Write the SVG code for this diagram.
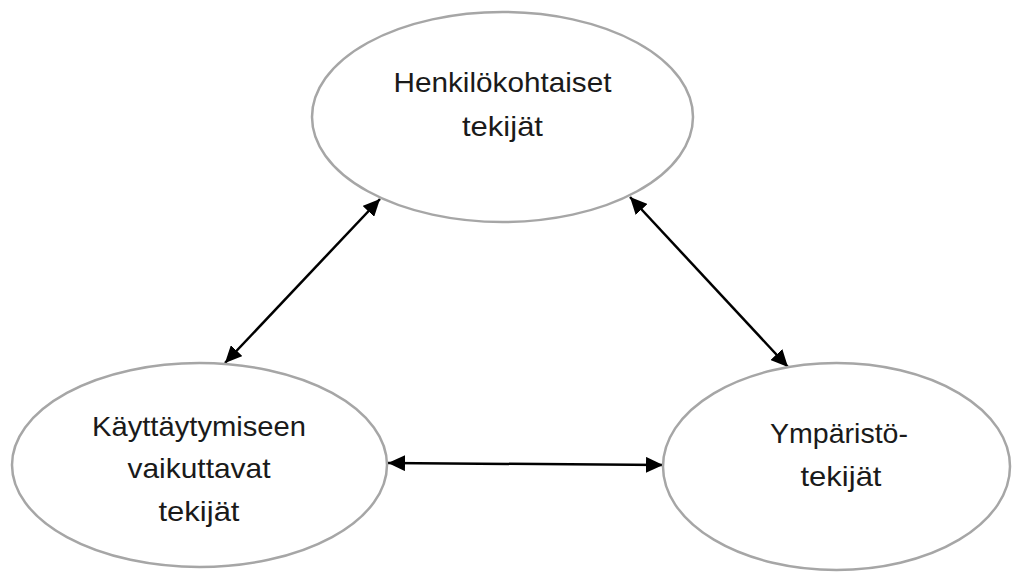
<svg xmlns="http://www.w3.org/2000/svg" width="1012" height="572" viewBox="0 0 1012 572">
<style>
.node ellipse{fill:#ffffff;stroke:#a6a6a6;stroke-width:2.5}
.node text{font-family:"Liberation Sans",Arial,sans-serif;font-size:28px;fill:#1a1a1a;text-anchor:middle}
.conn line{stroke:#000000;stroke-width:2.5}
</style>
<defs>
<marker id="ah" markerUnits="userSpaceOnUse" markerWidth="18" markerHeight="16" viewBox="0 0 18 16" refX="17" refY="8" orient="auto-start-reverse">
<path d="M0,0 L17,8 L0,16 Z" fill="#000000"/>
</marker>
</defs>
<rect width="1012" height="572" fill="#ffffff"/>
<g id="conns" class="conn">
<line x1="380" y1="199" x2="225" y2="363" marker-start="url(#ah)" marker-end="url(#ah)"/>
<line x1="630" y1="197" x2="788" y2="367" marker-start="url(#ah)" marker-end="url(#ah)"/>
<line x1="388" y1="463" x2="663" y2="465" marker-start="url(#ah)" marker-end="url(#ah)"/>
</g>
<g id="node-henkilokohtaiset" class="node">
<ellipse cx="502.5" cy="117" rx="190.5" ry="105"/>
<text x="502.5" y="92" textLength="218" lengthAdjust="spacingAndGlyphs">Henkilökohtaiset</text>
<text x="502.5" y="136" textLength="81" lengthAdjust="spacingAndGlyphs">tekijät</text>
</g>
<g id="node-kayttaytyminen" class="node">
<ellipse cx="199.5" cy="465" rx="187.5" ry="102"/>
<text x="199" y="436" textLength="214" lengthAdjust="spacingAndGlyphs">Käyttäytymiseen</text>
<text x="199" y="478" textLength="143" lengthAdjust="spacingAndGlyphs">vaikuttavat</text>
<text x="199" y="521" textLength="81" lengthAdjust="spacingAndGlyphs">tekijät</text>
</g>
<g id="node-ymparisto" class="node">
<ellipse cx="836.5" cy="466.5" rx="173.5" ry="103.5"/>
<text x="839" y="443" textLength="138" lengthAdjust="spacingAndGlyphs">Ympäristö-</text>
<text x="841" y="486" textLength="81" lengthAdjust="spacingAndGlyphs">tekijät</text>
</g>
</svg>
